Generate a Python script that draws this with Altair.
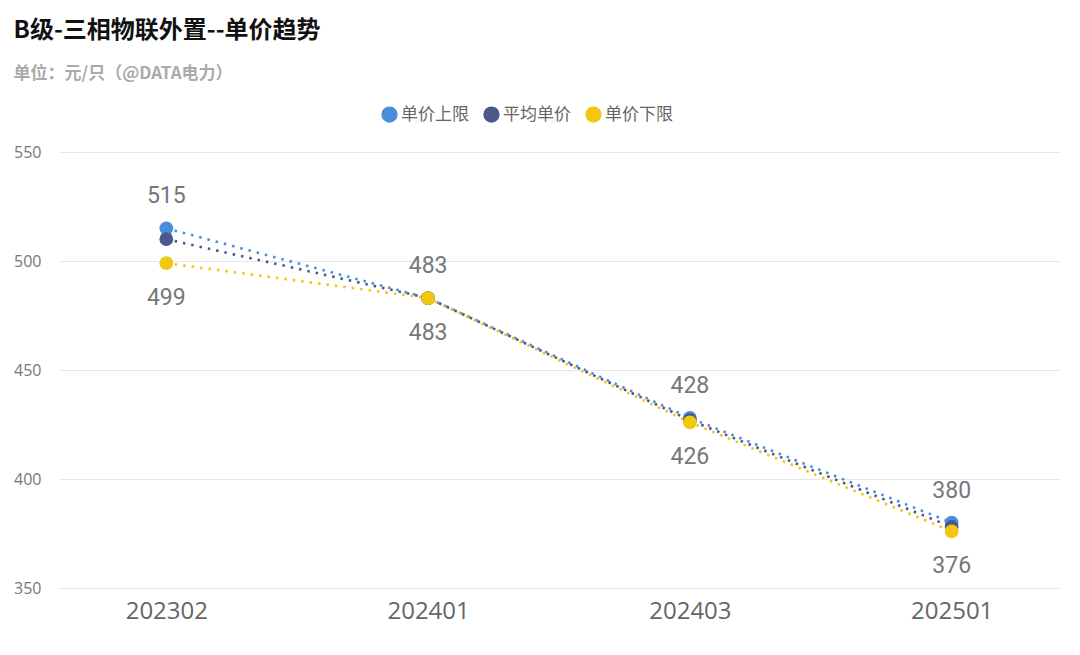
import altair as alt
import pandas as pd

periods = ["202302", "202401", "202403", "202501"]
upper = [515, 483, 428, 380]
average = [510, 483, 427, 378]
lower = [499, 483, 426, 376]
series = ["单价上限", "平均单价", "单价下限"]
colors = ["#4A8EDB", "#48598A", "#F2C80F"]

rows = []
for name, vals in zip(series, [upper, average, lower]):
    for i, (p, v) in enumerate(zip(periods, vals)):
        rows.append({"period": p, "value": v, "series": name, "order": series.index(name)})
df = pd.DataFrame(rows)

x = alt.X("period:O", sort=periods, title=None,
          scale=alt.Scale(type="point", padding=0.41),
          axis=alt.Axis(labelAngle=0, labelFontSize=24, labelColor="#666666",
                        labelFont="Open Sans", ticks=False, domain=False,
                        labelPadding=11, grid=False))
y = alt.Y("value:Q", title=None,
          scale=alt.Scale(domain=[350, 550], nice=False, zero=False),
          axis=alt.Axis(values=[350, 400, 450, 500, 550], labelFontSize=16,
                        labelColor="#777777", labelFont="Open Sans", ticks=False,
                        domain=False, labelPadding=18, gridColor="#E6E6E6",
                        gridWidth=1.2))
color = alt.Color("series:N", sort=series,
                  scale=alt.Scale(domain=series, range=colors),
                  legend=alt.Legend(title=None, orient="none", direction="horizontal",
                                    legendX=322, legendY=-46,
                                    symbolType="circle", symbolSize=220,
                                    labelFontSize=17, labelColor="#666666",
                                    labelFont="Noto Sans CJK SC", columnPadding=12,
                                    symbolOpacity=1, labelOffset=3))

base = alt.Chart(df)

lines = base.mark_line(strokeDash=[2.5, 6], strokeWidth=2.6).encode(
    x=x, y=y, color=color, detail="series:N", order="order:Q")

points = base.mark_circle(size=190, opacity=1).encode(
    x=x, y=y, color=color)

up_labels = base.transform_filter(alt.datum.series == "单价上限").mark_text(
    dy=-32, fontSize=23, color="#777777", font="Roboto").encode(
    x=x, y=y, text="value:Q")
low_labels = base.transform_filter(alt.datum.series == "单价下限").mark_text(
    dy=35, fontSize=23, color="#777777", font="Roboto").encode(
    x=x, y=y, text="value:Q")

chart = alt.layer(lines, points, up_labels, low_labels).properties(
    width=1000, height=436,
    title=alt.TitleParams(
        text="B级-三相物联外置--单价趋势",
        subtitle="单位：元/只（@DATA电力）",
        anchor="start", frame="bounds", fontSize=24, fontWeight="bold",
        color="#111111", font="Noto Sans CJK SC",
        subtitleFontSize=17, subtitleColor="#AAAAAA", subtitleFontWeight="bold",
        subtitleFont="Noto Sans CJK SC", subtitlePadding=23, offset=24),
    background="white",
    padding={"left": 5, "top": 11, "right": 5, "bottom": 5},
).configure_view(stroke=None)

chart.save("out.html", embed_options={"renderer": "svg", "actions": False})
